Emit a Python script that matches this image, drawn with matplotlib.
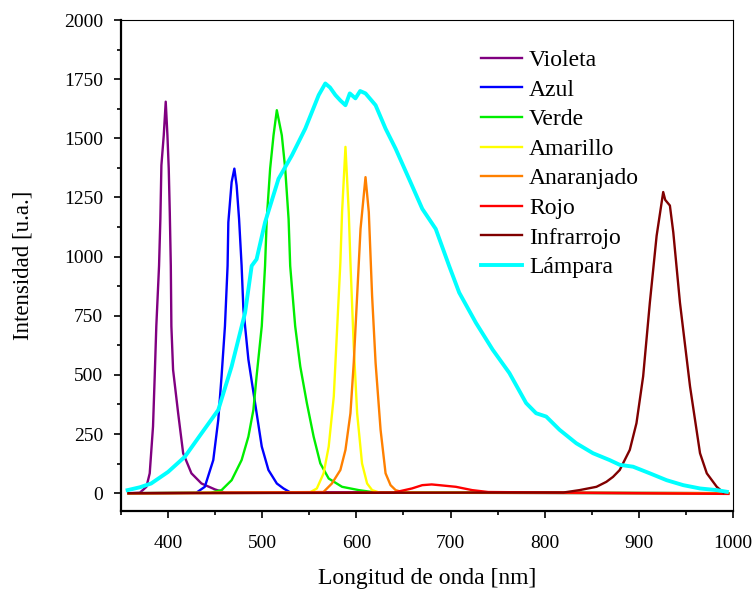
import numpy as np
import matplotlib.pyplot as plt
from matplotlib.ticker import MultipleLocator

plt.rcParams['font.family'] = ['Liberation Serif', 'DejaVu Serif']

# Espectros: longitud de onda [nm] e intensidad [u.a.]
violeta_x = [358, 370, 377, 380.5, 384, 385.8, 387.5, 390.4, 391.8, 392.9, 395.4, 397.5, 399.3, 400.7,
             401.8, 402.9, 403.5, 405.3, 410.7, 416, 424.8, 435.5, 449.8, 460, 995]
violeta_y = [0, 2, 27, 84, 282, 494, 706, 961, 1159, 1386, 1513, 1655, 1513, 1372,
             1188, 961, 706, 522, 338, 169, 84, 41, 16, 3, 0]

azul_x = [358, 430, 439, 448, 453.3, 456.8, 460.4, 463.2, 464, 467.5, 470.4, 472.8, 475.4, 478.1,
          480, 485.3, 492.4, 499.5, 506.6, 515.5, 522.6, 530, 995]
azul_y = [0, 2, 27, 140, 310, 494, 706, 961, 1145, 1315, 1372, 1301, 1159, 961,
          777, 565, 381, 197, 98, 41, 20, 3, 0]

verde_x = [358, 445, 456.8, 467.5, 478.1, 485.3, 490.6, 494, 499.5, 503, 504.8, 508.4, 512, 515.5,
           520.8, 524.4, 528, 529.7, 535, 540.4, 547.4, 554.6, 561.7, 570.6, 584.8, 602.6, 620, 995]
verde_y = [0, 2, 13, 55, 140, 239, 352, 494, 706, 961, 1159, 1372, 1513, 1619,
           1513, 1372, 1159, 961, 706, 536, 381, 239, 126, 62, 27, 13, 3, 0]

amarillo_x = [358, 550, 558, 565.2, 570.6, 576, 579.5, 583, 584.8, 588.4, 591.9, 593.7, 597.2,
              600.8, 606, 611.4, 616.7, 625, 995]
amarillo_y = [0, 2, 20, 84, 197, 409, 692, 975, 1188, 1464, 1188, 975, 621,
              338, 126, 41, 13, 2, 0]

naranja_x = [358, 565, 574, 583, 588.4, 593.7, 597.2, 600.8, 604.4, 609.7, 613.2, 616.7, 620.4,
             625.7, 631, 636.3, 641.7, 650, 995]
naranja_y = [0, 5, 41, 98, 183, 338, 551, 834, 1117, 1336, 1188, 834, 551,
             268, 84, 34, 13, 3, 0]

rojo_x = [358, 640, 659, 670, 680, 688, 705.7, 723, 740, 995]
rojo_y = [0, 3, 20, 34, 37, 34, 27, 13, 5, -3]

infrarrojo_x = [358, 820, 837, 855, 865.5, 872.6, 879.7, 890.4, 897.5, 904.6, 911.7, 918.9, 925.9,
                928, 933, 936.6, 943.7, 954.4, 965, 972.2, 982.8, 990]
infrarrojo_y = [0, 3, 13, 27, 48, 69, 98, 183, 296, 494, 805, 1088, 1273,
                1240, 1216, 1103, 805, 451, 169, 84, 27, 2]

lampara_x = [357, 370, 382, 400, 417.8, 435.5, 453.3, 467.5, 481.8, 488.8, 494, 503, 517.3, 531.5,
             545.7, 560, 567, 572, 577.7, 583, 588.4, 593, 599, 604, 609.7, 620.4, 631, 641.7,
             655.9, 670, 684.3, 698.5, 709.2, 727, 744.7, 762.5, 780.3, 790.9, 801.6, 815.8,
             833.6, 851.3, 869, 879.7, 893.9, 911.7, 929.5, 947.2, 965, 982.8, 993.5]
lampara_y = [13, 25, 41, 90, 154, 253, 352, 536, 763, 961, 989, 1145, 1329, 1428,
             1541, 1683, 1732, 1715, 1683, 1660, 1640, 1690, 1669, 1700, 1690, 1640, 1541, 1456,
             1329, 1202, 1117, 961, 848, 720, 607, 508, 381, 338, 324, 268,
             211, 169, 140, 120, 112, 84, 55, 34, 20, 13, 6]

series = [
    ("Violeta", violeta_x, violeta_y, "#800080"),
    ("Azul", azul_x, azul_y, "#0000ff"),
    ("Verde", verde_x, verde_y, "#00ee00"),
    ("Amarillo", amarillo_x, amarillo_y, "#ffff00"),
    ("Anaranjado", naranja_x, naranja_y, "#ff8000"),
    ("Rojo", rojo_x, rojo_y, "#ff0000"),
    ("Infrarrojo", infrarrojo_x, infrarrojo_y, "#800000"),
    ("Lámpara", lampara_x, lampara_y, "#00ffff"),
]

fig = plt.figure(figsize=(7.53, 5.9), dpi=100)
ax = fig.add_axes([0.1607, 0.134, 0.8127, 0.832])

for nombre, x, y, c in series:
    lw = 2.8 if nombre == "Lámpara" else 1.7
    ax.plot(x, y, color=c, lw=lw, label=nombre)

ax.set_xlim(350, 1000)
ax.set_ylim(-75, 2000)
ax.xaxis.set_major_locator(MultipleLocator(100))
ax.xaxis.set_minor_locator(MultipleLocator(50))
ax.yaxis.set_major_locator(MultipleLocator(250))
ax.yaxis.set_minor_locator(MultipleLocator(125))
ax.tick_params(which='both', direction='out', top=False, right=False, width=1.2)
ax.tick_params(axis='x', which='major', length=5, pad=12, labelsize=14)
ax.tick_params(axis='y', which='major', length=5, pad=8, labelsize=14)
ax.tick_params(which='minor', length=3)
for s in ['left', 'bottom']:
    ax.spines[s].set_linewidth(1.6)
for s in ['top', 'right']:
    ax.spines[s].set_linewidth(0.8)

ax.set_xlabel("Longitud de onda [nm]", fontsize=17, labelpad=12)
ax.set_ylabel("Intensidad [u.a.]", fontsize=16.5, labelpad=22)

ax.legend(loc='upper left', bbox_to_anchor=(0.553, 0.983), frameon=False, fontsize=17,
          handlelength=1.75, handletextpad=0.3, labelspacing=0.34)

fig.savefig("out.png", dpi=100)
